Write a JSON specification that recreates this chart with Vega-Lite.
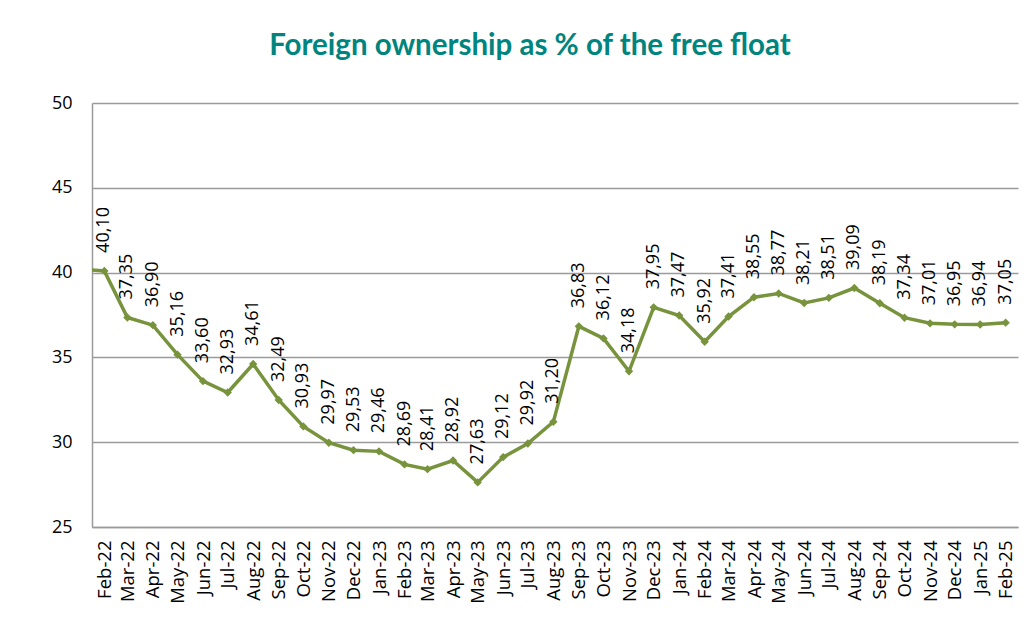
{
  "$schema": "https://vega.github.io/schema/vega-lite/v6.json",
  "width": 926,
  "height": 424,
  "autosize": "none",
  "padding": {"left": 92, "top": 103, "right": 17, "bottom": 91},
  "background": "white",
  "config": {
    "locale": {"number": {"decimal": ",", "thousands": ".", "grouping": [3], "currency": ["", " €"]}},
    "view": {"stroke": null},
    "font": "Open Sans"
  },
  "title": {
    "text": "Foreign ownership as % of the free float",
    "font": "Lato",
    "fontSize": 29.5,
    "fontWeight": "bold",
    "color": "#00847E",
    "anchor": "middle",
    "frame": "group",
    "dx": -25,
    "offset": 33
  },
  "data": {
    "values": [
      {"date": "2022-01-01T00:00:00", "value": 40.20},
      {"date": "2022-02-01T00:00:00", "value": 40.10},
      {"date": "2022-03-01T00:00:00", "value": 37.35},
      {"date": "2022-04-01T00:00:00", "value": 36.90},
      {"date": "2022-05-01T00:00:00", "value": 35.16},
      {"date": "2022-06-01T00:00:00", "value": 33.60},
      {"date": "2022-07-01T00:00:00", "value": 32.93},
      {"date": "2022-08-01T00:00:00", "value": 34.61},
      {"date": "2022-09-01T00:00:00", "value": 32.49},
      {"date": "2022-10-01T00:00:00", "value": 30.93},
      {"date": "2022-11-01T00:00:00", "value": 29.97},
      {"date": "2022-12-01T00:00:00", "value": 29.53},
      {"date": "2023-01-01T00:00:00", "value": 29.46},
      {"date": "2023-02-01T00:00:00", "value": 28.69},
      {"date": "2023-03-01T00:00:00", "value": 28.41},
      {"date": "2023-04-01T00:00:00", "value": 28.92},
      {"date": "2023-05-01T00:00:00", "value": 27.63},
      {"date": "2023-06-01T00:00:00", "value": 29.12},
      {"date": "2023-07-01T00:00:00", "value": 29.92},
      {"date": "2023-08-01T00:00:00", "value": 31.20},
      {"date": "2023-09-01T00:00:00", "value": 36.83},
      {"date": "2023-10-01T00:00:00", "value": 36.12},
      {"date": "2023-11-01T00:00:00", "value": 34.18},
      {"date": "2023-12-01T00:00:00", "value": 37.95},
      {"date": "2024-01-01T00:00:00", "value": 37.47},
      {"date": "2024-02-01T00:00:00", "value": 35.92},
      {"date": "2024-03-01T00:00:00", "value": 37.41},
      {"date": "2024-04-01T00:00:00", "value": 38.55},
      {"date": "2024-05-01T00:00:00", "value": 38.77},
      {"date": "2024-06-01T00:00:00", "value": 38.21},
      {"date": "2024-07-01T00:00:00", "value": 38.51},
      {"date": "2024-08-01T00:00:00", "value": 39.09},
      {"date": "2024-09-01T00:00:00", "value": 38.19},
      {"date": "2024-10-01T00:00:00", "value": 37.34},
      {"date": "2024-11-01T00:00:00", "value": 37.01},
      {"date": "2024-12-01T00:00:00", "value": 36.95},
      {"date": "2025-01-01T00:00:00", "value": 36.94},
      {"date": "2025-02-01T00:00:00", "value": 37.05}
    ]
  },
  "encoding": {
    "x": {
      "field": "date",
      "type": "temporal",
      "scale": {"domain": [{"year": 2022, "month": "jan", "date": 17}, {"year": 2025, "month": "feb", "date": 16}]},
      "axis": {
        "title": null,
        "format": "%b-%y",
        "tickCount": {"interval": "month", "step": 1},
        "labelAngle": -90,
        "labelFontSize": 18.5,
        "labelColor": "#000000",
        "labelPadding": 13,
        "labelFont": "Open Sans",
        "labelOverlap": false,
        "labelFlush": false,
        "ticks": false,
        "grid": false,
        "domainColor": "#9a9a9a",
        "domainWidth": 1.5
      }
    },
    "y": {
      "field": "value",
      "type": "quantitative",
      "scale": {"domain": [25, 50], "nice": false, "zero": false},
      "axis": {
        "title": null,
        "values": [25, 30, 35, 40, 45, 50],
        "format": "d",
        "labelFontSize": 18,
        "labelColor": "#000000",
        "labelPadding": 20,
        "labelFont": "Open Sans",
        "ticks": false,
        "gridColor": "#9a9a9a",
        "gridWidth": 1.5,
        "domainColor": "#9a9a9a",
        "domainWidth": 1.5
      }
    }
  },
  "layer": [
    {
      "mark": {"type": "line", "color": "#77933C", "strokeWidth": 3.5, "clip": true}
    },
    {
      "transform": [{"filter": "datum.date >= datetime(2022, 1, 1)"}],
      "mark": {"type": "point", "shape": "diamond", "filled": true, "color": "#77933C", "size": 70, "opacity": 1}
    },
    {
      "transform": [{"filter": "datum.date >= datetime(2022, 1, 1)"}],
      "mark": {"type": "text", "angle": 270, "align": "left", "baseline": "middle", "yOffset": -18, "fontSize": 18, "font": "Open Sans", "color": "#000000"},
      "encoding": {"text": {"field": "value", "type": "quantitative", "format": ".2f"}}
    }
  ]
}
